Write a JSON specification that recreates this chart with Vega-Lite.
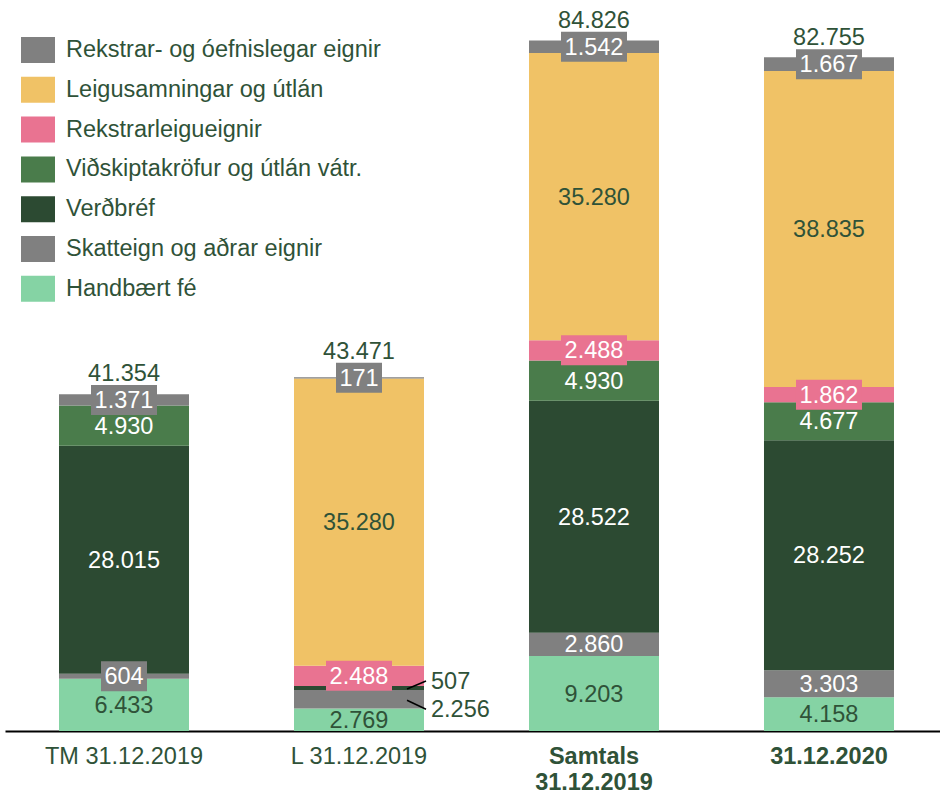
{
  "$schema": "https://vega.github.io/schema/vega-lite/v6.json",
  "width": 935,
  "height": 731,
  "autosize": {"type": "none"},
  "padding": {"left": 5, "top": 0, "right": 0, "bottom": 63},
  "config": {
    "view": {"stroke": null},
    "font": "Liberation Sans",
    "locale": {"number": {"decimal": ",", "thousands": ".", "grouping": [3], "currency": ["", ""]}}
  },
  "datasets": {
    "assets": [
      {"c": "TM 31.12.2019", "s": "Handbært fé", "k": 1, "v": 6433},
      {"c": "TM 31.12.2019", "s": "Skatteign og aðrar eignir", "k": 2, "v": 604},
      {"c": "TM 31.12.2019", "s": "Verðbréf", "k": 3, "v": 28015},
      {"c": "TM 31.12.2019", "s": "Viðskiptakröfur og útlán vátr.", "k": 4, "v": 4930},
      {"c": "TM 31.12.2019", "s": "Rekstrar- og óefnislegar eignir", "k": 7, "v": 1371},
      {"c": "L 31.12.2019", "s": "Handbært fé", "k": 1, "v": 2769},
      {"c": "L 31.12.2019", "s": "Skatteign og aðrar eignir", "k": 2, "v": 2256},
      {"c": "L 31.12.2019", "s": "Verðbréf", "k": 3, "v": 507},
      {"c": "L 31.12.2019", "s": "Rekstrarleigueignir", "k": 5, "v": 2488},
      {"c": "L 31.12.2019", "s": "Leigusamningar og útlán", "k": 6, "v": 35280},
      {"c": "L 31.12.2019", "s": "Rekstrar- og óefnislegar eignir", "k": 7, "v": 171},
      {"c": "Samtals 31.12.2019", "s": "Handbært fé", "k": 1, "v": 9203},
      {"c": "Samtals 31.12.2019", "s": "Skatteign og aðrar eignir", "k": 2, "v": 2860},
      {"c": "Samtals 31.12.2019", "s": "Verðbréf", "k": 3, "v": 28522},
      {"c": "Samtals 31.12.2019", "s": "Viðskiptakröfur og útlán vátr.", "k": 4, "v": 4930},
      {"c": "Samtals 31.12.2019", "s": "Rekstrarleigueignir", "k": 5, "v": 2488},
      {"c": "Samtals 31.12.2019", "s": "Leigusamningar og útlán", "k": 6, "v": 35280},
      {"c": "Samtals 31.12.2019", "s": "Rekstrar- og óefnislegar eignir", "k": 7, "v": 1542},
      {"c": "31.12.2020", "s": "Handbært fé", "k": 1, "v": 4158},
      {"c": "31.12.2020", "s": "Skatteign og aðrar eignir", "k": 2, "v": 3303},
      {"c": "31.12.2020", "s": "Verðbréf", "k": 3, "v": 28252},
      {"c": "31.12.2020", "s": "Viðskiptakröfur og útlán vátr.", "k": 4, "v": 4677},
      {"c": "31.12.2020", "s": "Rekstrarleigueignir", "k": 5, "v": 1862},
      {"c": "31.12.2020", "s": "Leigusamningar og útlán", "k": 6, "v": 38835},
      {"c": "31.12.2020", "s": "Rekstrar- og óefnislegar eignir", "k": 7, "v": 1667}
    ],
    "totals": [
      {"c": "TM 31.12.2019", "t": 41354},
      {"c": "L 31.12.2019", "t": 43471},
      {"c": "Samtals 31.12.2019", "t": 84826},
      {"c": "31.12.2020", "t": 82755}
    ]
  },
  "data": {"name": "assets"},
  "encoding": {
    "x": {
      "field": "c",
      "type": "nominal",
      "sort": ["TM 31.12.2019", "L 31.12.2019", "Samtals 31.12.2019", "31.12.2020"],
      "scale": {"paddingInner": 0.4468, "paddingOuter": 0.2128, "align": 0.54},
      "title": null,
      "axis": {
        "domainColor": "#000000",
        "domainWidth": 2,
        "ticks": false,
        "labelAngle": 0,
        "labelPadding": 13,
        "labelFontSize": 23.5,
        "labelColor": "#2F5238",
        "labelLineHeight": 26,
        "labelBaseline": "top",
        "labelExpr": "datum.value == 'Samtals 31.12.2019' ? ['Samtals', '31.12.2019'] : datum.value",
        "labelFontWeight": {"condition": {"test": "datum.index > 0.5", "value": "bold"}, "value": "normal"},
        "grid": false
      }
    }
  },
  "layer": [
    {
      "transform": [
        {"stack": "v", "groupby": ["c"], "sort": [{"field": "k", "order": "ascending"}], "as": ["y0", "y1"]}
      ],
      "mark": {"type": "bar"},
      "encoding": {
        "y": {"field": "y0", "type": "quantitative", "scale": {"domain": [0, 89800], "nice": false, "zero": true}, "axis": null},
        "y2": {"field": "y1"},
        "color": {
          "field": "s",
          "type": "nominal",
          "scale": {
            "domain": ["Rekstrar- og óefnislegar eignir", "Leigusamningar og útlán", "Rekstrarleigueignir", "Viðskiptakröfur og útlán vátr.", "Verðbréf", "Skatteign og aðrar eignir", "Handbært fé"],
            "range": ["#808080", "#F0C266", "#E97391", "#4A7C4B", "#2C4A32", "#808080", "#85D3A4"]
          },
          "legend": {
            "title": null,
            "orient": "none",
            "legendX": 16,
            "legendY": 33,
            "padding": 0,
            "symbolType": "M-1,-0.765H1V0.765H-1Z",
            "symbolSize": 1156,
            "symbolStrokeWidth": 0,
            "symbolOpacity": 1,
            "labelFontSize": 23.5,
            "labelColor": "#2F5238",
            "labelOffset": 11,
            "labelLimit": 500,
            "rowPadding": 8.8
          }
        }
      }
    },
    {
      "transform": [
        {"stack": "v", "groupby": ["c"], "sort": [{"field": "k", "order": "ascending"}], "as": ["y0", "y1"]},
        {"calculate": "(datum.y0 + datum.y1) / 2", "as": "mid"},
        {"filter": "(datum.k == 7 || datum.k == 5 || datum.k == 2) && datum.c != 'L 31.12.2019' && datum.v >= 1000 && datum.v < 2700 || (datum.c == 'L 31.12.2019' && datum.k == 5)"}
      ],
      "mark": {"type": "point", "shape": "M-1,-0.4545H1V0.4545H-1Z", "size": 4356, "filled": true, "opacity": 1, "strokeWidth": 0},
      "encoding": {
        "y": {"field": "mid", "type": "quantitative", "scale": {"domain": [0, 89800], "nice": false, "zero": true}, "axis": null},
        "color": {"condition": {"test": "datum.k == 5", "value": "#E97391"}, "value": "#808080"}
      }
    },
    {
      "transform": [
        {"stack": "v", "groupby": ["c"], "sort": [{"field": "k", "order": "ascending"}], "as": ["y0", "y1"]},
        {"calculate": "(datum.y0 + datum.y1) / 2", "as": "mid"},
        {"filter": "datum.k == 7 || datum.k == 2 && datum.c != 'L 31.12.2019'"},
        {"filter": "datum.v < 1000"}
      ],
      "mark": {"type": "point", "shape": "M-1,-0.652H1V0.652H-1Z", "size": 2116, "filled": true, "opacity": 1, "strokeWidth": 0, "color": "#808080"},
      "encoding": {
        "y": {"field": "mid", "type": "quantitative", "scale": {"domain": [0, 89800], "nice": false, "zero": true}, "axis": null}
      }
    },
    {
      "transform": [
        {"stack": "v", "groupby": ["c"], "sort": [{"field": "k", "order": "ascending"}], "as": ["y0", "y1"]},
        {"calculate": "(datum.y0 + datum.y1) / 2", "as": "mid"},
        {"filter": "!(datum.c == 'L 31.12.2019' && (datum.k == 2 || datum.k == 3))"}
      ],
      "mark": {"type": "text", "fontSize": 23.5, "baseline": "middle", "align": "center", "dy": 1},
      "encoding": {
        "y": {"field": "mid", "type": "quantitative", "scale": {"domain": [0, 89800], "nice": false, "zero": true}, "axis": null},
        "text": {"field": "v", "type": "quantitative", "format": ",.0f"},
        "color": {"condition": {"test": "datum.k == 1 || datum.k == 6", "value": "#2F5238"}, "value": "#FFFFFF"}
      }
    },
    {
      "transform": [
        {"stack": "v", "groupby": ["c"], "sort": [{"field": "k", "order": "ascending"}], "as": ["y0", "y1"]},
        {"calculate": "(datum.y0 + datum.y1) / 2", "as": "mid"},
        {"filter": "datum.c == 'L 31.12.2019' && datum.k == 3"}
      ],
      "layer": [
        {
          "mark": {"type": "text", "fontSize": 23.5, "baseline": "middle", "align": "left", "dx": 72, "dy": -6, "color": "#2F5238"},
          "encoding": {
            "y": {"field": "mid", "type": "quantitative", "scale": {"domain": [0, 89800], "nice": false, "zero": true}, "axis": null},
            "text": {"field": "v", "type": "quantitative", "format": ",.0f"}
          }
        },
        {
          "mark": {"type": "point", "shape": "M0,0L0.95,-0.4", "size": 1600, "filled": false, "stroke": "#000000", "strokeWidth": 1.5, "opacity": 1, "xOffset": 48, "yOffset": 1},
          "encoding": {
            "y": {"field": "mid", "type": "quantitative", "scale": {"domain": [0, 89800], "nice": false, "zero": true}, "axis": null}
          }
        }
      ]
    },
    {
      "transform": [
        {"stack": "v", "groupby": ["c"], "sort": [{"field": "k", "order": "ascending"}], "as": ["y0", "y1"]},
        {"calculate": "(datum.y0 + datum.y1) / 2", "as": "mid"},
        {"filter": "datum.c == 'L 31.12.2019' && datum.k == 2"}
      ],
      "layer": [
        {
          "mark": {"type": "text", "fontSize": 23.5, "baseline": "middle", "align": "left", "dx": 72, "dy": 11, "color": "#2F5238"},
          "encoding": {
            "y": {"field": "mid", "type": "quantitative", "scale": {"domain": [0, 89800], "nice": false, "zero": true}, "axis": null},
            "text": {"field": "v", "type": "quantitative", "format": ",.0f"}
          }
        },
        {
          "mark": {"type": "point", "shape": "M0,0L0.95,0.45", "size": 1600, "filled": false, "stroke": "#000000", "strokeWidth": 1.5, "opacity": 1, "xOffset": 48, "yOffset": 1},
          "encoding": {
            "y": {"field": "mid", "type": "quantitative", "scale": {"domain": [0, 89800], "nice": false, "zero": true}, "axis": null}
          }
        }
      ]
    },
    {
      "transform": [
        {"stack": "v", "groupby": ["c"], "sort": [{"field": "k", "order": "ascending"}], "as": ["y0", "y1"]},
        {"calculate": "(datum.y0 + datum.y1) / 2", "as": "mid"},
        {"filter": "datum.k == 7"},
        {"lookup": "c", "from": {"data": {"name": "totals"}, "key": "c", "fields": ["t"]}}
      ],
      "mark": {"type": "text", "fontSize": 23.5, "baseline": "middle", "align": "center", "dy": -26, "color": "#2F5238"},
      "encoding": {
        "y": {"field": "mid", "type": "quantitative", "scale": {"domain": [0, 89800], "nice": false, "zero": true}, "axis": null},
        "text": {"field": "t", "type": "quantitative", "format": ",.0f"}
      }
    }
  ]
}
